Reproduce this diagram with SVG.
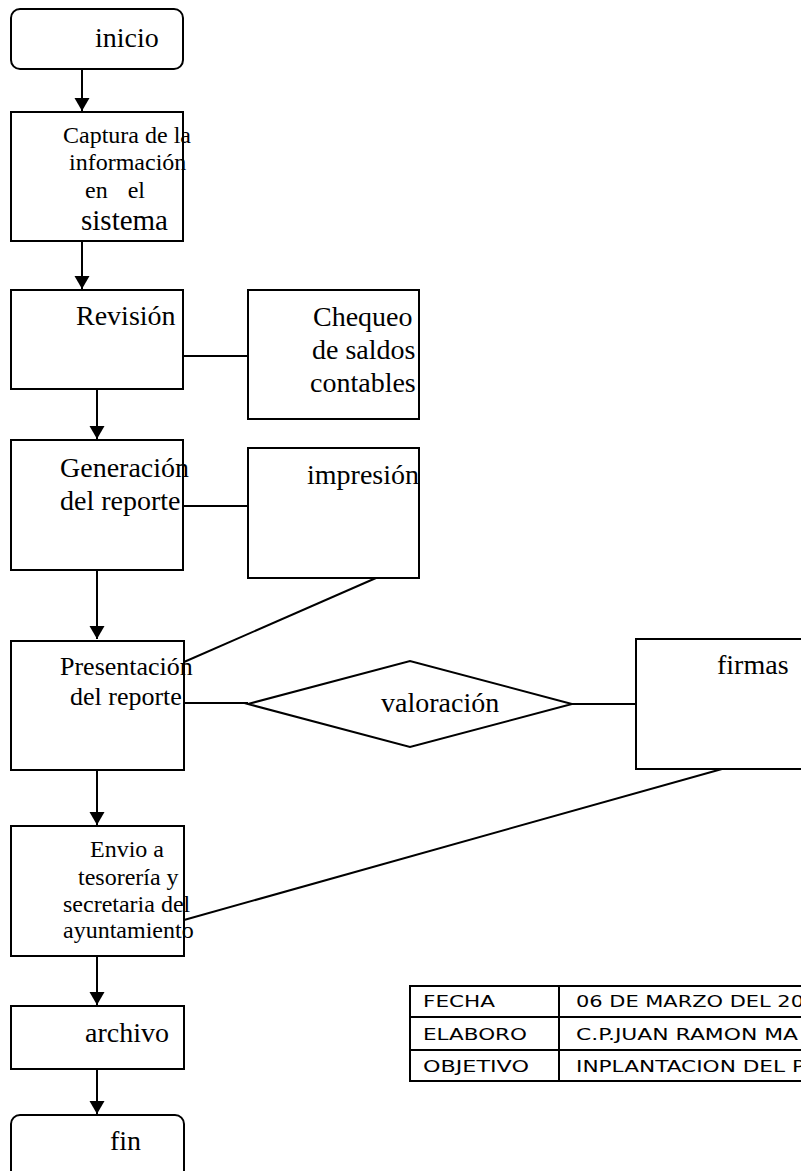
<svg xmlns="http://www.w3.org/2000/svg" width="801" height="1171" viewBox="0 0 801 1171">
<style>
.b{fill:#fff;stroke:#000;stroke-width:2}
.c{fill:none;stroke:#000;stroke-width:2}
.t{font-family:"Liberation Serif","Times New Roman",serif;font-size:28px;fill:#000}
.s{font-size:24px}
.m{font-family:"DejaVu Sans",Verdana,sans-serif;font-size:16px;fill:#000}
</style>
<defs>
<marker id="ah" markerUnits="userSpaceOnUse" markerWidth="16" markerHeight="17" refX="13" refY="8" orient="auto">
<path d="M0,0.5 L13,8 L0,15.5 Z" fill="#000"/>
</marker>
</defs>
<rect width="801" height="1171" fill="#fff"/>
<g id="connectors">
<line class="c" x1="82" y1="70" x2="82" y2="111" marker-end="url(#ah)"/>
<line class="c" x1="82" y1="241" x2="82" y2="289" marker-end="url(#ah)"/>
<line class="c" x1="97" y1="389" x2="97" y2="439" marker-end="url(#ah)"/>
<line class="c" x1="97" y1="571" x2="97" y2="639" marker-end="url(#ah)"/>
<line class="c" x1="97" y1="770" x2="97" y2="825" marker-end="url(#ah)"/>
<line class="c" x1="97" y1="956" x2="97" y2="1005" marker-end="url(#ah)"/>
<line class="c" x1="97" y1="1069" x2="97" y2="1114" marker-end="url(#ah)"/>
<line class="c" x1="183" y1="356" x2="248" y2="356"/>
<line class="c" x1="183" y1="506" x2="248" y2="506"/>
<line class="c" x1="376" y1="578" x2="184" y2="662"/>
<line class="c" x1="184" y1="703" x2="248" y2="703"/>
<line class="c" x1="572" y1="704" x2="636" y2="704"/>
<line class="c" x1="722" y1="769" x2="184" y2="920"/>
</g>
<g id="inicio">
<rect class="b" x="11" y="9" width="172" height="60" rx="9"/>
<text class="t" x="95" y="47">inicio</text>
</g>
<g id="captura">
<rect class="b" x="11" y="112" width="172" height="129"/>
<text class="t s" x="63" y="143">Captura de la</text>
<text class="t s" x="69" y="170">información</text>
<text class="t s" x="85" y="198" style="word-spacing:14px">en el</text>
<text class="t" x="81" y="230" style="font-size:29px">sistema</text>
</g>
<g id="revision">
<rect class="b" x="11" y="290" width="172" height="99"/>
<text class="t" x="76" y="325">Revisión</text>
</g>
<g id="chequeo">
<rect class="b" x="248" y="290" width="171" height="129"/>
<text class="t" x="313" y="326">Chequeo</text>
<text class="t" x="312" y="359">de saldos</text>
<text class="t" x="310" y="392">contables</text>
</g>
<g id="generacion">
<rect class="b" x="11" y="440" width="172" height="130"/>
<text class="t" x="60" y="477">Generación</text>
<text class="t" x="60" y="510">del reporte</text>
</g>
<g id="impresion">
<rect class="b" x="248" y="448" width="171" height="130"/>
<text class="t" x="307" y="484">impresión</text>
</g>
<g id="presentacion">
<rect class="b" x="11" y="641" width="173" height="129"/>
<text class="t" x="60" y="675" style="font-size:26px">Presentación</text>
<text class="t" x="70" y="705" style="font-size:26px">del reporte</text>
</g>
<g id="valoracion">
<polygon class="b" points="248,704 410,661 572,704 410,747"/>
<text class="t" x="381" y="712">valoración</text>
</g>
<g id="firmas">
<rect class="b" x="636" y="639" width="180" height="130"/>
<text class="t" x="717" y="674">firmas</text>
</g>
<g id="envio">
<rect class="b" x="11" y="826" width="173" height="130"/>
<text class="t s" x="90" y="857">Envio a</text>
<text class="t s" x="78" y="885">tesorería y</text>
<text class="t s" x="63" y="912">secretaria del</text>
<text class="t s" x="63" y="938">ayuntamiento</text>
</g>
<g id="archivo">
<rect class="b" x="11" y="1006" width="173" height="63"/>
<text class="t" x="85" y="1042">archivo</text>
</g>
<g id="fin">
<rect class="b" x="11" y="1115" width="173" height="70" rx="9"/>
<text class="t" x="110" y="1150">fin</text>
</g>
<g id="tabla">
<rect class="c" x="410" y="986" width="420" height="95"/>
<line class="c" x1="410" y1="1017" x2="801" y2="1017"/>
<line class="c" x1="410" y1="1050" x2="801" y2="1050"/>
<line class="c" x1="559" y1="986" x2="559" y2="1081"/>
<text class="m" x="423" y="1007" textLength="72" lengthAdjust="spacingAndGlyphs">FECHA</text>
<text class="m" x="423" y="1040" textLength="104" lengthAdjust="spacingAndGlyphs">ELABORO</text>
<text class="m" x="423" y="1072" textLength="106" lengthAdjust="spacingAndGlyphs">OBJETIVO</text>
<text class="m" x="576" y="1007" textLength="228" lengthAdjust="spacingAndGlyphs">06 DE MARZO DEL 20</text>
<text class="m" x="576" y="1040" textLength="222" lengthAdjust="spacingAndGlyphs">C.P.JUAN RAMON MA</text>
<text class="m" x="576" y="1072" textLength="229" lengthAdjust="spacingAndGlyphs">INPLANTACION DEL P</text>
</g>
</svg>
